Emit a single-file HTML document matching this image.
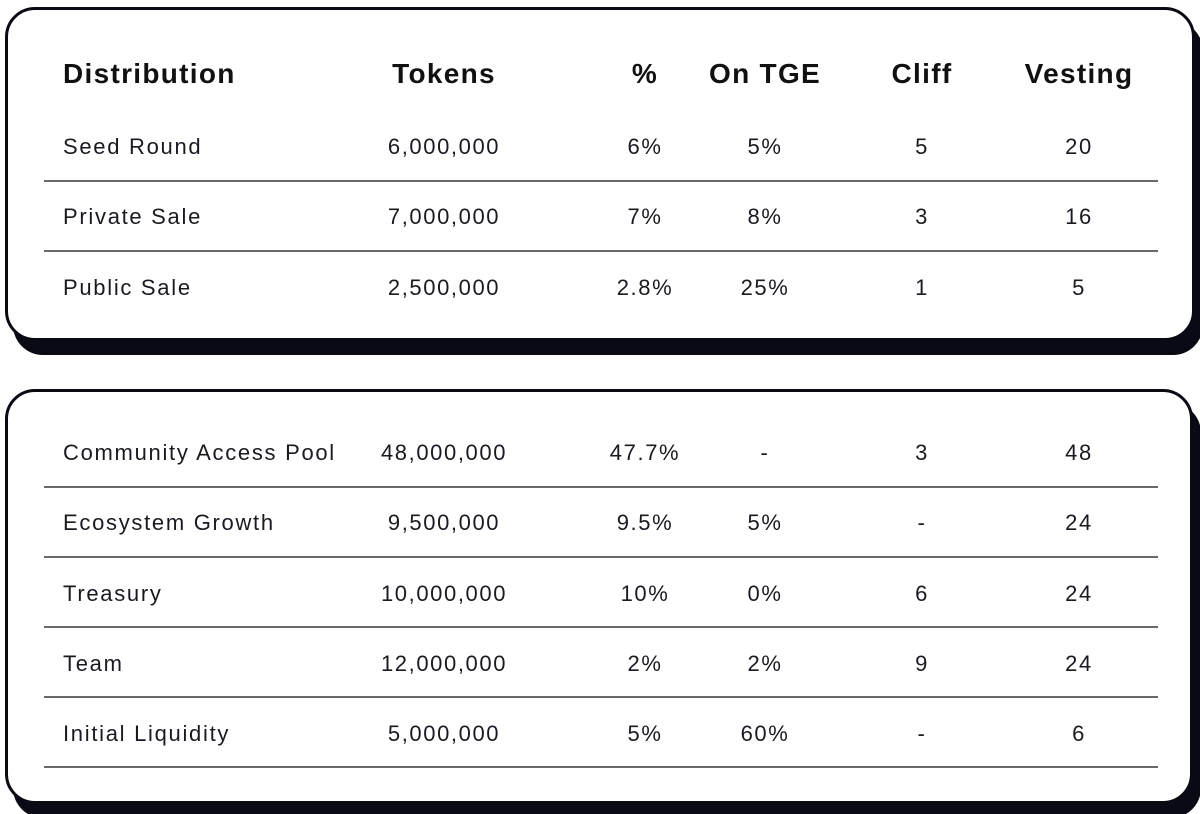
<!DOCTYPE html>
<html><head><style>
body{margin:0;width:1200px;height:814px;background:#fff;position:relative;overflow:hidden;font-family:"Liberation Sans",sans-serif;color:#1a1a22}
.box{position:absolute;background:#fff;border:3px solid #0a0a14;border-radius:30px;box-shadow:8px 14px 0 #0a0a14}
.t{position:absolute;font-size:22px;transform:translate(-50%,-50%);white-space:nowrap;letter-spacing:1.6px}
.l{position:absolute;font-size:22px;transform:translateY(-50%);white-space:nowrap;letter-spacing:1.7px}
.h{font-weight:bold;font-size:28px;color:#111;letter-spacing:1.3px}
.line{position:absolute;left:44px;width:1114px;height:2px;background:#6a6a6a}
</style></head><body>
<div class="box" style="left:5px;top:7px;width:1184px;height:328px"></div>
<div class="box" style="left:5px;top:389px;width:1182px;height:409px"></div>

<div class="l h" style="left:63px;top:74px">Distribution</div>
<div class="t h" style="left:444px;top:74px">Tokens</div>
<div class="t h" style="left:645px;top:74px">%</div>
<div class="t h" style="left:765px;top:74px">On TGE</div>
<div class="t h" style="left:922px;top:74px">Cliff</div>
<div class="t h" style="left:1079px;top:74px">Vesting</div>

<div class="line" style="top:180px"></div>
<div class="line" style="top:250px"></div>
<div class="line" style="top:486px"></div>
<div class="line" style="top:556px"></div>
<div class="line" style="top:626px"></div>
<div class="line" style="top:696px"></div>
<div class="line" style="top:766px"></div>

<div class="l" style="left:63px;top:147px">Seed Round</div><div class="t" style="left:444px;top:147px">6,000,000</div><div class="t" style="left:645px;top:147px">6%</div><div class="t" style="left:765px;top:147px">5%</div><div class="t" style="left:922px;top:147px">5</div><div class="t" style="left:1079px;top:147px">20</div>
<div class="l" style="left:63px;top:217px">Private Sale</div><div class="t" style="left:444px;top:217px">7,000,000</div><div class="t" style="left:645px;top:217px">7%</div><div class="t" style="left:765px;top:217px">8%</div><div class="t" style="left:922px;top:217px">3</div><div class="t" style="left:1079px;top:217px">16</div>
<div class="l" style="left:63px;top:288px">Public Sale</div><div class="t" style="left:444px;top:288px">2,500,000</div><div class="t" style="left:645px;top:288px">2.8%</div><div class="t" style="left:765px;top:288px">25%</div><div class="t" style="left:922px;top:288px">1</div><div class="t" style="left:1079px;top:288px">5</div>

<div class="l" style="left:63px;top:453px">Community Access Pool</div><div class="t" style="left:444px;top:453px">48,000,000</div><div class="t" style="left:645px;top:453px">47.7%</div><div class="t" style="left:765px;top:453px">-</div><div class="t" style="left:922px;top:453px">3</div><div class="t" style="left:1079px;top:453px">48</div>
<div class="l" style="left:63px;top:523px">Ecosystem Growth</div><div class="t" style="left:444px;top:523px">9,500,000</div><div class="t" style="left:645px;top:523px">9.5%</div><div class="t" style="left:765px;top:523px">5%</div><div class="t" style="left:922px;top:523px">-</div><div class="t" style="left:1079px;top:523px">24</div>
<div class="l" style="left:63px;top:594px">Treasury</div><div class="t" style="left:444px;top:594px">10,000,000</div><div class="t" style="left:645px;top:594px">10%</div><div class="t" style="left:765px;top:594px">0%</div><div class="t" style="left:922px;top:594px">6</div><div class="t" style="left:1079px;top:594px">24</div>
<div class="l" style="left:63px;top:664px">Team</div><div class="t" style="left:444px;top:664px">12,000,000</div><div class="t" style="left:645px;top:664px">2%</div><div class="t" style="left:765px;top:664px">2%</div><div class="t" style="left:922px;top:664px">9</div><div class="t" style="left:1079px;top:664px">24</div>
<div class="l" style="left:63px;top:734px">Initial Liquidity</div><div class="t" style="left:444px;top:734px">5,000,000</div><div class="t" style="left:645px;top:734px">5%</div><div class="t" style="left:765px;top:734px">60%</div><div class="t" style="left:922px;top:734px">-</div><div class="t" style="left:1079px;top:734px">6</div>
</body></html>
